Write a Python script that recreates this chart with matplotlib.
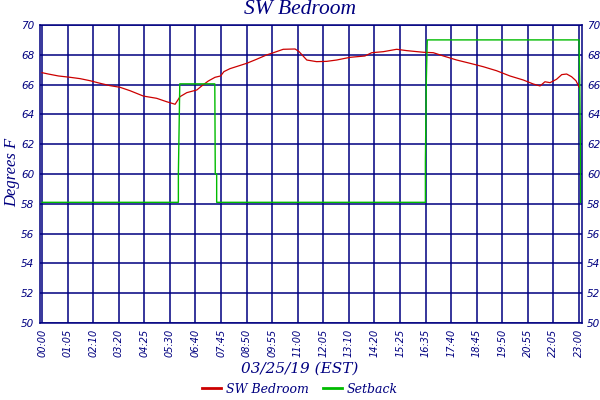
import matplotlib
matplotlib.use("Agg")
import matplotlib.pyplot as plt

NAVY = "#000080"

# readings, hours since midnight
bed_hours = [0.00, 0.27, 0.70, 1.20, 1.63, 2.06, 2.48, 2.91, 3.34, 3.77, 4.34, 4.91,
             5.34, 5.70, 5.91, 6.20, 6.63, 6.84, 7.12, 7.41, 7.65, 7.79, 8.05, 8.41,
             8.77, 9.19, 9.62, 9.91, 10.33, 10.84, 11.01, 11.34, 11.76, 12.19, 12.62,
             13.19, 13.83, 14.12, 14.62, 15.19, 15.62, 16.33, 16.76, 17.19, 17.76,
             18.33, 18.90, 19.47, 20.04, 20.61, 21.04, 21.33, 21.54, 21.76, 22.04,
             22.26, 22.47, 22.68, 22.87, 23.01]
bed_temp = [66.80, 66.71, 66.58, 66.49, 66.40, 66.26, 66.09, 65.93, 65.82, 65.59, 65.23, 65.08,
            64.85, 64.68, 65.19, 65.46, 65.64, 65.91, 66.24, 66.49, 66.58, 66.87, 67.07, 67.25,
            67.43, 67.70, 67.99, 68.14, 68.37, 68.39, 68.21, 67.65, 67.54, 67.56, 67.65,
            67.83, 67.92, 68.14, 68.21, 68.37, 68.28, 68.17, 68.14, 67.92, 67.65,
            67.43, 67.20, 66.93, 66.58, 66.31, 66.04, 65.91, 66.19, 66.13, 66.36,
            66.67, 66.71, 66.53, 66.26, 65.82]

setback_hours = [0.00, 5.84, 5.84, 5.88, 5.90, 7.40, 7.42, 7.48, 7.48, 16.42, 16.42,
                 16.46, 16.50, 23.00, 23.03, 23.07, 23.07]
setback_temp = [58.1, 58.1, 60.0, 64.0, 66.05, 66.05, 60.0, 60.0, 58.1, 58.1, 60.8,
                66.3, 69.0, 69.0, 66.3, 60.8, 58.1]

tick_labels = ["00:00", "01:05", "02:10", "03:20", "04:25", "05:30", "06:40", "07:45",
               "08:50", "09:55", "11:00", "12:05", "13:10", "14:20", "15:25", "16:35",
               "17:40", "18:45", "19:50", "20:55", "22:05", "23:00"]
y_ticks = [50, 52, 54, 56, 58, 60, 62, 64, 66, 68, 70]

fig = plt.figure(figsize=(6, 4), dpi=100)
ax = fig.add_axes([0.0667, 0.1925, 0.9028, 0.745])

tick_pos = [23 * i / (len(tick_labels) - 1) for i in range(len(tick_labels))]
ax.set_xticks(tick_pos)
ax.set_xticklabels(tick_labels, rotation=90, fontsize=7, style="italic", color=NAVY)
ax.set_yticks(y_ticks)
ax.set_yticklabels([str(v) for v in y_ticks], fontsize=7.5, style="italic", color=NAVY)
ax.set_xlim(-0.086, 23.115)
ax.set_ylim(50, 70)
ax.grid(True, color=NAVY, linewidth=1.1)
ax.set_axisbelow(True)
ax.tick_params(length=0, pad=4, labelright=True)
for s in ax.spines.values():
    s.set_color(NAVY)
    s.set_linewidth(1.1)

ax.plot(bed_hours, bed_temp, color="#CC0000", linewidth=0.9, label="SW Bedroom")
ax.plot(setback_hours, setback_temp, color="#00BB00", linewidth=1.0, label="Setback")

fig.text(0.5, 0.975, "SW Bedroom", ha="center", va="center", fontsize=15.5,
         family="Liberation Serif", style="italic", color=NAVY)
fig.text(0.02, 0.57, "Degrees F", ha="center", va="center", rotation=90, fontsize=12,
         family="Liberation Serif", style="italic", color=NAVY)
fig.text(0.5, 0.078, "03/25/19 (EST)", ha="center", va="center", fontsize=11,
         family="DejaVu Serif", style="italic", color=NAVY)

leg = fig.legend(loc="center", bbox_to_anchor=(0.5, 0.027), ncol=2, frameon=False,
                 handlelength=1.5, handletextpad=0.4, columnspacing=1.2,
                 prop={"family": "DejaVu Serif", "style": "italic", "size": 9})
for t in leg.get_texts():
    t.set_color(NAVY)
for h in leg.get_lines():
    h.set_linewidth(2)

fig.savefig("out.png", dpi=100)
